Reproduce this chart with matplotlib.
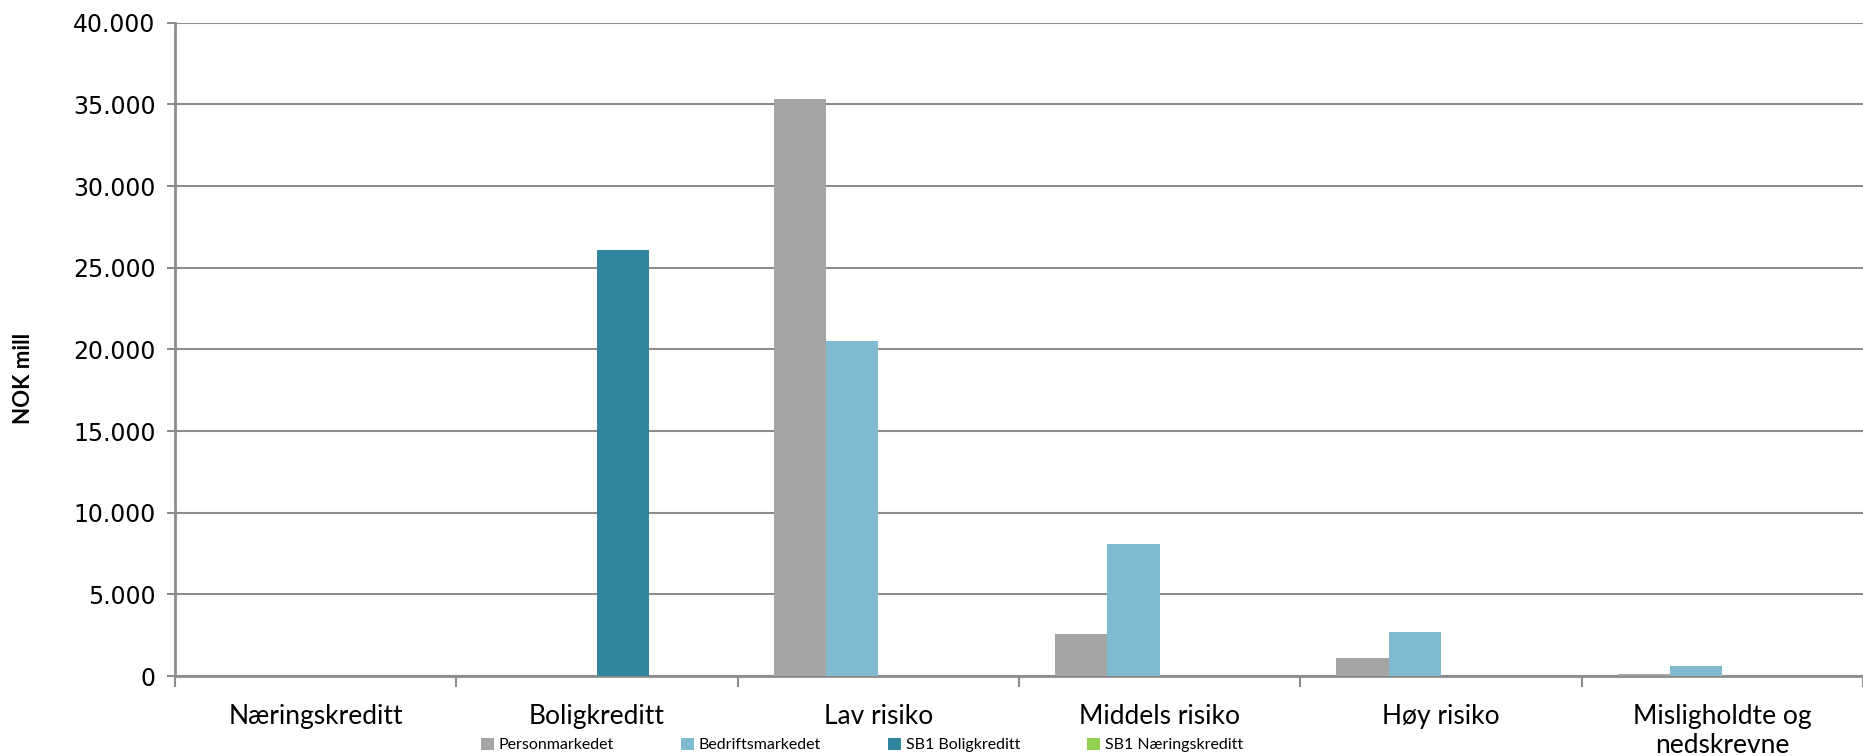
import numpy as np
import matplotlib.pyplot as plt
from matplotlib.ticker import FuncFormatter

categories = ["Næringskreditt", "Boligkreditt", "Lav risiko", "Middels risiko",
              "Høy risiko", "Misligholdte og\nnedskrevne"]
series_names = ["Personmarkedet", "Bedriftsmarkedet", "SB1 Boligkreditt", "SB1 Næringskreditt"]
personmarkedet = [0, 0, 35300, 2550, 1100, 100]
bedriftsmarkedet = [0, 0, 20500, 8100, 2700, 600]
sb1_boligkreditt = [0, 26100, 0, 0, 0, 0]
sb1_naeringskreditt = [0, 0, 0, 0, 0, 0]
colors = ["#A5A5A5", "#7FBACF", "#31859C", "#92D050"]

values = [personmarkedet, bedriftsmarkedet, sb1_boligkreditt, sb1_naeringskreditt]

fig = plt.figure(figsize=(18.63, 7.56), dpi=100)
ax = fig.add_axes([175/1863, 1-676/756, 1-175/1863, (676-22.7)/756])

x = np.arange(len(categories))
w = 0.186
for i, (vals, name, c) in enumerate(zip(values, series_names, colors)):
    ax.bar(x + (i-1.5)*w, vals, w, color=c, label=name, zorder=3)

ax.set_xlim(-0.5, len(categories)-0.5)
ax.set_ylim(0, 40000)
ax.set_yticks(np.arange(0, 40001, 5000))
ax.yaxis.set_major_formatter(FuncFormatter(lambda v, p: f"{int(v):,}".replace(",", ".")))
ax.grid(axis="y", color="#8C8C8C", linewidth=1.5, zorder=0)

ax.set_xticks(x)
ax.set_xticklabels(categories, fontsize=19, family="Lato", linespacing=1.2)
ax.set_xticks(np.arange(-0.5, len(categories), 1), minor=True)
ax.tick_params(axis="x", which="major", length=0, pad=20)
ax.tick_params(axis="x", which="minor", length=8, width=1.5, color="#8C8C8C")
ax.tick_params(axis="y", length=6, width=1.5, color="#8C8C8C", labelsize=17, pad=8)

for s in ["top", "right"]:
    ax.spines[s].set_visible(False)
for s in ["left", "bottom"]:
    ax.spines[s].set_color("#8C8C8C")
    ax.spines[s].set_linewidth(2)

fig.text(24/1863, 0.5, "NOK mill", rotation=90, fontsize=16, fontweight="bold",
         family="Lato", va="center", ha="center")

fig.legend(loc="center", bbox_to_anchor=(862/1863, 1-745/756), ncol=4, frameon=False,
           prop={"family": "Lato", "size": 11.5}, handlelength=0.8, handleheight=0.8,
           handletextpad=0.3, columnspacing=4.2)

fig.savefig("out.png", dpi=100)
